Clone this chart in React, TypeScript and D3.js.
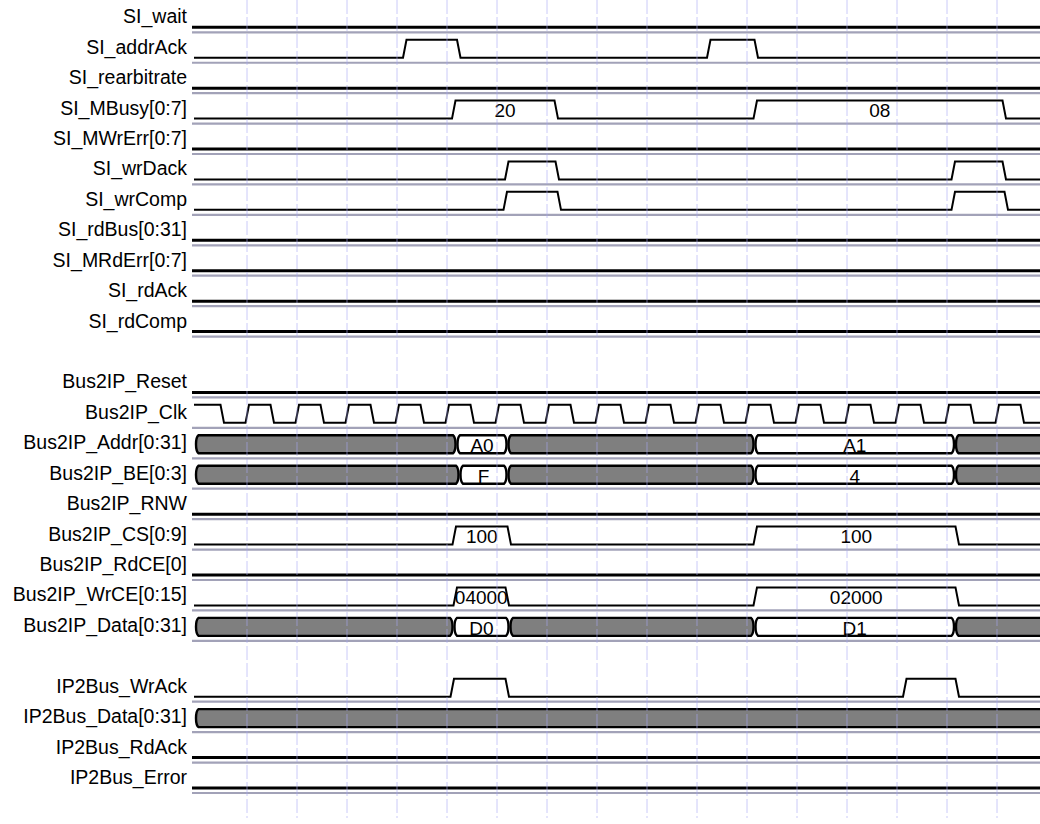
import React from 'react';
import * as d3 from 'd3';

// rows top to bottom, "" = spacer row
const rowNames = [
  'SI_wait', 'SI_addrAck', 'SI_rearbitrate', 'SI_MBusy[0:7]', 'SI_MWrErr[0:7]',
  'SI_wrDack', 'SI_wrComp', 'SI_rdBus[0:31]', 'SI_MRdErr[0:7]', 'SI_rdAck', 'SI_rdComp',
  '',
  'Bus2IP_Reset', 'Bus2IP_Clk', 'Bus2IP_Addr[0:31]', 'Bus2IP_BE[0:3]', 'Bus2IP_RNW',
  'Bus2IP_CS[0:9]', 'Bus2IP_RdCE[0]', 'Bus2IP_WrCE[0:15]', 'Bus2IP_Data[0:31]',
  '',
  'IP2Bus_WrAck', 'IP2Bus_Data[0:31]', 'IP2Bus_RdAck', 'IP2Bus_Error',
];

// time in ns, grid every 10 ns
const gridTimes = [10, 20, 30, 40, 50, 60, 70, 80, 90, 100, 110, 120, 130, 140, 150, 160];

// clock starts high, toggles at each edge
const clkEdges = [
  4.7, 9.7, 14.7, 19.7, 24.7, 29.7, 34.7, 39.7, 44.7, 49.7, 54.7, 59.7, 64.7, 69.7,
  74.7, 79.7, 84.7, 89.7, 94.7, 99.7, 104.7, 109.7, 114.7, 119.7, 124.7, 129.7,
  134.7, 139.7, 144.7, 149.7, 154.7, 159.7, 164.7,
];

const addrAckEdges = [41.2, 52.0, 102.0, 111.5];
const mBusyEdges = [51.0, 71.5, 111.3, 161.1];
const mBusyValues = ['20', '08'];
const wrDackEdges = [61.6, 71.7, 150.9, 161.1];
const wrCompEdges = [61.3, 72.1, 150.9, 161.5];

const addrEdges = [51.9, 62.1, 111.5, 151.6];
const addrValues = ['A0', 'A1'];
const beEdges = [52.5, 62.1, 111.5, 151.6];
const beValues = ['F', '4'];
const csEdges = [51.1, 62.1, 111.3, 151.7];
const csValues = ['100', '100'];
const wrCeEdges = [51.3, 61.7, 111.3, 151.7];
const wrCeValues = ['04000', '02000'];
const dataEdges = [51.3, 62.5, 111.5, 151.6];
const dataValues = ['D0', 'D1'];
const wrAckEdges = [50.7, 61.7, 141.2, 151.7];

const constRows = [0, 2, 4, 7, 8, 9, 10, 12, 16, 18, 24, 25];

const width = 1040;
const height = 824;
const FONT = '"Liberation Sans", Arial, sans-serif';
const slope = 3.5;
const amp = 18;

const x = d3.scaleLinear().domain([-0.8, 168.6]).range([193, 1040]);
const low = d3.scaleLinear().domain([0, 25]).range([27.3, 788]);

const line = d3.line();

function wavePath(row: number, edges: number[], startHigh = false) {
  const yl = low(row);
  const yh = yl - amp;
  let hi = startHigh;
  const pts: [number, number][] = [[194, hi ? yh : yl]];
  edges.forEach((e) => {
    const px = x(e);
    pts.push([px, hi ? yh : yl]);
    hi = !hi;
    pts.push([px + slope, hi ? yh : yl]);
  });
  pts.push([width + 5, hi ? yh : yl]);
  return line(pts) as string;
}

function segPath(a: number, b: number, yT: number, yB: number) {
  const yM = (yT + yB) / 2;
  const c = 2.5;
  return `M${a + c},${yT}L${b - c},${yT}Q${b},${yT + 2} ${b},${yM}Q${b},${yB - 2} ${b - c},${yB}` +
    `L${a + c},${yB}Q${a},${yB - 2} ${a},${yM}Q${a},${yT + 2} ${a + c},${yT}Z`;
}

const Pulse = ({ row, edges, values }: { row: number; edges: number[]; values?: string[] }) => {
  const yl = low(row);
  return (
    <g>
      <path d={wavePath(row, edges)} fill="none" stroke="#000" strokeWidth={2} />
      {values && values.map((v, i) => (
        <text key={i} x={(x(edges[2 * i]) + x(edges[2 * i + 1]) + slope) / 2} y={yl - 1.5}
          textAnchor="middle" fontSize={19} fontFamily={FONT}>{v}</text>
      ))}
    </g>
  );
};

const Bus = ({ row, edges, values }: { row: number; edges: number[]; values: string[] }) => {
  const yB = low(row);
  const yT = yB - amp;
  const bounds = [x(-0.8) + 2, ...edges.map((e) => x(e)), width + 10];
  const segs = d3.pairs(bounds);
  return (
    <g>
      {segs.map(([a, b], i) => {
        const valid = i % 2 === 1;
        return (
          <g key={i}>
            <path d={segPath(a + 1, b - 1, yT, yB)} fill={valid ? '#fff' : '#7f7f7f'}
              stroke="#000" strokeWidth={2.4} />
            {valid && (
              <text x={(a + b) / 2} y={yB - 1.2} textAnchor="middle" fontSize={19}
                fontFamily={FONT}>{values[(i - 1) / 2]}</text>
            )}
          </g>
        );
      })}
    </g>
  );
};

export default function App() {
  return (
    <svg width={width} height={height} style={{ position: 'absolute', left: 0, top: 0, background: '#fff' }}>
      {/* separators */}
      {rowNames.map((n, i) => n && (
        <line key={'s' + i} x1={192} x2={width} y1={low(i) + 5} y2={low(i) + 5}
          stroke="#a2a2b8" strokeWidth={2.2} />
      ))}
      {/* labels */}
      {rowNames.map((n, i) => n && (
        <text key={'l' + i} x={187} y={low(i) - 4} textAnchor="end" fontSize={19.5}
          fontFamily={FONT} fill="#000">{n}</text>
      ))}
      {/* constant signals */}
      {constRows.map((r) => (
        <line key={'c' + r} x1={192} x2={width} y1={low(r)} y2={low(r)} stroke="#000" strokeWidth={3} />
      ))}
      <path d={wavePath(13, clkEdges, true)} fill="none" stroke="#000" strokeWidth={2} />
      <Pulse row={1} edges={addrAckEdges} />
      <Pulse row={3} edges={mBusyEdges} values={mBusyValues} />
      <Pulse row={5} edges={wrDackEdges} />
      <Pulse row={6} edges={wrCompEdges} />
      <Bus row={14} edges={addrEdges} values={addrValues} />
      <Bus row={15} edges={beEdges} values={beValues} />
      <Pulse row={17} edges={csEdges} values={csValues} />
      <Pulse row={19} edges={wrCeEdges} values={wrCeValues} />
      <Bus row={20} edges={dataEdges} values={dataValues} />
      <Pulse row={22} edges={wrAckEdges} />
      <Bus row={23} edges={[]} values={[]} />
      {/* time grid */}
      {gridTimes.map((t) => (
        <line key={'g' + t} x1={x(t)} x2={x(t)} y1={0} y2={818} stroke="#a8a8f4"
          strokeOpacity={0.6} strokeWidth={1} strokeDasharray="14,3" />
      ))}
    </svg>
  );
}
